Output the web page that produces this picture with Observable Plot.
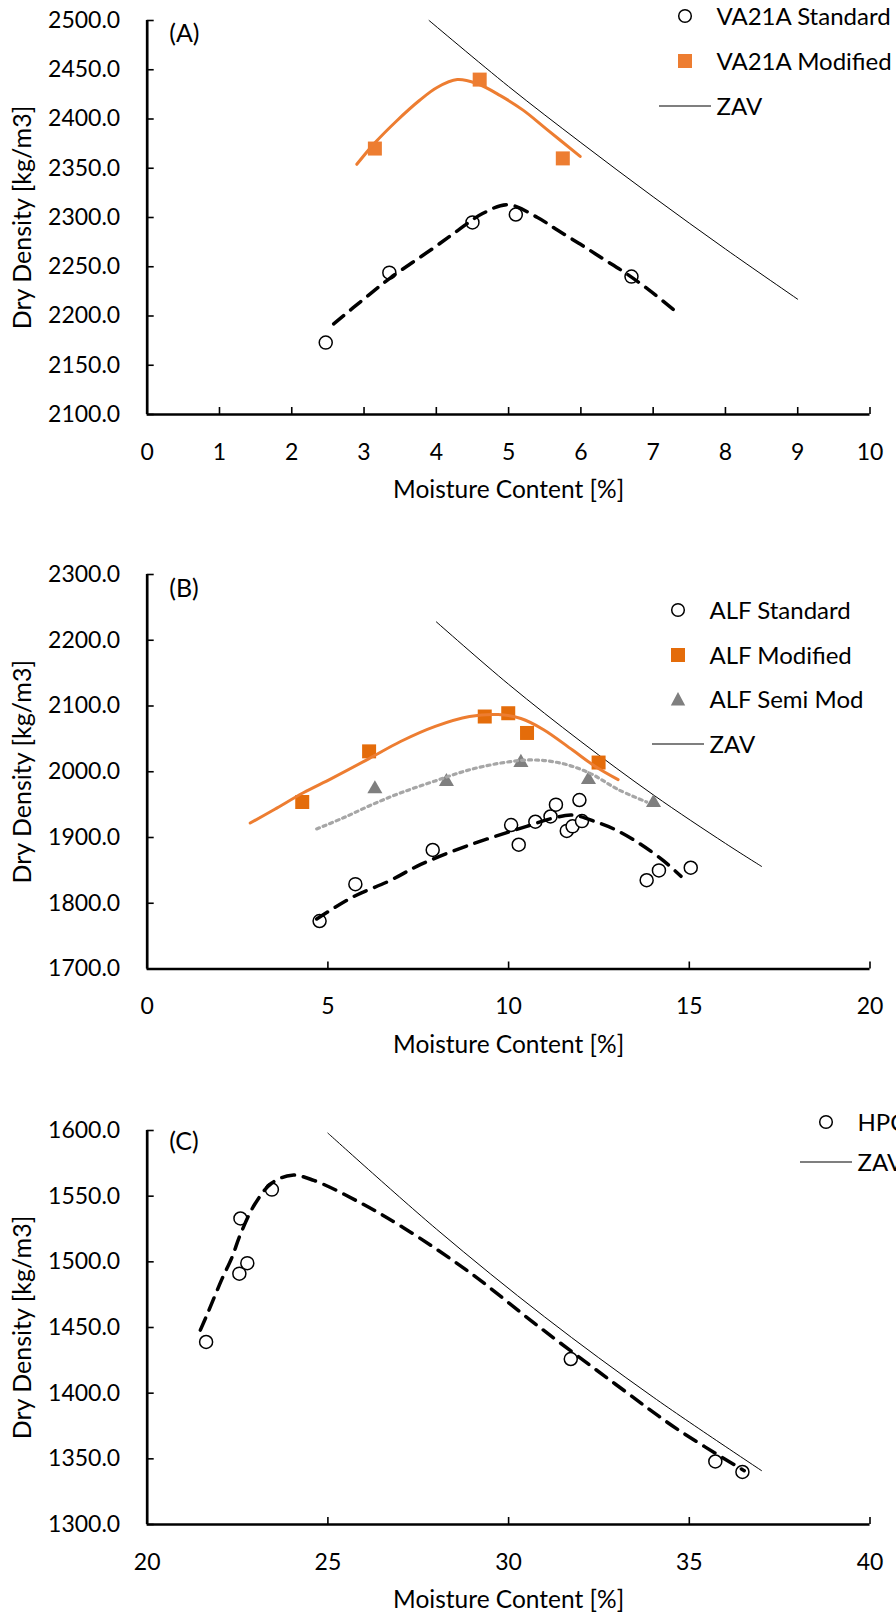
<!DOCTYPE html>
<html>
<head>
<meta charset="utf-8">
<script src="https://cdn.jsdelivr.net/npm/d3@7"></script>
<script src="https://cdn.jsdelivr.net/npm/@observablehq/plot@0.6"></script>
<style>
  html, body { margin: 0; padding: 0; background: #fff; overflow: hidden; }
  body { width: 896px; height: 1617px; font-family: Lato, "Open Sans", sans-serif; }
  .panel { position: relative; width: 896px; }
  .panel svg { display: block; }
  .row { position: absolute; display: flex; align-items: center; transform: translateY(-50%);
         white-space: nowrap; font-size: 24px; color: #000; line-height: 1; }
  .row svg { flex: none; }
</style>
</head>
<body>
<div id="chart"></div>
<script>
// ---------- Panel A: VA21A ----------
const aStdMoisture = [2.47, 3.35, 4.50, 5.10, 6.70];
const aStdDensity  = [2173, 2244, 2295, 2303, 2240];
const aModMoisture = [3.15, 4.60, 5.75];
const aModDensity  = [2370, 2440, 2360];
const aStdFitMoisture = [2.58, 3.06, 3.37, 3.98, 4.30, 4.64, 4.99, 5.40, 5.68, 5.99, 6.31, 6.63, 6.95, 7.29];
const aStdFitDensity  = [2192, 2221, 2239, 2270, 2287, 2304, 2313, 2300, 2287, 2273, 2258, 2243, 2226, 2206];
const aModFitMoisture = [2.90, 3.14, 3.45, 3.77, 4.01, 4.29, 4.56, 4.88, 5.20, 5.52, 5.99];
const aModFitDensity  = [2354, 2375, 2398, 2419, 2432, 2440, 2436, 2424, 2409, 2390, 2362];
const aZavMoisture = [3.9, 5, 6, 7, 8, 9.0];
const aZavDensity  = [2500, 2433, 2376, 2321, 2268, 2217];
const aXTicks = [0, 1, 2, 3, 4, 5, 6, 7, 8, 9, 10];
const aYTicks = [2100, 2150, 2200, 2250, 2300, 2350, 2400, 2450, 2500];

// ---------- Panel B: ALF ----------
const bStdMoisture = [4.77, 5.76, 7.90, 10.07, 10.28, 10.74, 11.16, 11.31, 11.61, 11.77, 11.96, 12.03, 13.82, 14.16, 15.04];
const bStdDensity  = [1773, 1829, 1881, 1919, 1889, 1924, 1932, 1950, 1910, 1917, 1957, 1925, 1835, 1850, 1854];
const bModMoisture = [4.29, 6.14, 9.34, 9.99, 10.51, 12.49];
const bModDensity  = [1954, 2031, 2084, 2089, 2059, 2014];
const bSemiMoisture = [6.30, 8.28, 10.34, 12.21, 14.01];
const bSemiDensity  = [1974, 1985, 2014, 1988, 1953];
const bStdFitMoisture = [4.69, 5.67, 6.70, 7.57, 8.84, 10.50, 11.20, 11.77, 12.45, 12.95, 13.59, 14.30, 14.77];
const bStdFitDensity  = [1776, 1809, 1834, 1859, 1887, 1917, 1929, 1934, 1923, 1912, 1892, 1864, 1841];
const bModFitMoisture = [2.85, 3.53, 4.32, 5.11, 6.14, 7.01, 7.97, 8.92, 9.71, 10.34, 10.97, 11.77, 12.40, 13.03];
const bModFitDensity  = [1922, 1943, 1968, 1990, 2020, 2046, 2069, 2084, 2087, 2081, 2064, 2033, 2008, 1988];
const bSemiFitMoisture = [4.69, 5.43, 6.22, 7.02, 7.97, 8.92, 9.87, 10.66, 11.45, 12.24, 13.03, 13.82];
const bSemiFitDensity  = [1913, 1930, 1950, 1968, 1986, 2003, 2014, 2018, 2013, 1998, 1973, 1954];
const bZavMoisture = [8, 10, 12, 14, 16, 17];
const bZavDensity  = [2228, 2133, 2046, 1965, 1891, 1856];
const bXTicks = [0, 5, 10, 15, 20];
const bYTicks = [1700, 1800, 1900, 2000, 2100, 2200, 2300];

// ---------- Panel C: HPC ----------
const cMoisture = [21.63, 22.55, 22.58, 22.77, 23.45, 31.72, 35.72, 36.47];
const cDensity  = [1439, 1491, 1533, 1499, 1555, 1426, 1348, 1340];
const cFitMoisture = [21.47, 21.66, 22.07, 22.34, 22.58, 22.98, 23.45, 24.01, 24.61, 25.83, 27.09, 28.92, 30.82, 32.95, 34.70, 36.52];
const cFitDensity  = [1448, 1460, 1487, 1503, 1521, 1544, 1560, 1566, 1562, 1546, 1526, 1492, 1451, 1407, 1372, 1341];
const cZavMoisture = [25, 28, 31, 34, 37];
const cZavDensity  = [1598, 1525, 1458, 1397, 1341];
const cXTicks = [20, 25, 30, 35, 40];
const cYTicks = [1300, 1350, 1400, 1450, 1500, 1550, 1600];

// ---------- styling ----------
const FONT = "Lato, 'Open Sans', sans-serif";
const TICK_FS = 23;
const TITLE_FS = 24.5;
const ORANGE = "#ED7D31";
const ORANGE_DARK = "#E46C0A";
const GRAY = "#7F7F7F";
const GRAY_LIGHT = "#A6A6A6";
const W = 896, ML = 146.7, MR = 26.5, MT = 20;

const pts = (xs, ys) => xs.map((x, i) => ({x, y: ys[i]}));

const openCircles = (xs, ys) =>
  Plot.dot(pts(xs, ys), {x: "x", y: "y", r: 6.5, fill: "white", stroke: "black", strokeWidth: 1.5});
const squares = (xs, ys, color) =>
  Plot.dot(pts(xs, ys), {x: "x", y: "y", symbol: "square", r: 7.9, fill: color});
const triangles = (xs, ys) =>
  Plot.dot(pts(xs, ys), {x: "x", y: "y", symbol: "triangle", r: 5.6, fill: GRAY});
const dashedFit = (xs, ys) =>
  Plot.line(pts(xs, ys), {x: "x", y: "y", curve: "catmull-rom", stroke: "black", strokeWidth: 3.5, strokeDasharray: "13 9"});
const solidFit = (xs, ys, color) =>
  Plot.line(pts(xs, ys), {x: "x", y: "y", curve: "catmull-rom", stroke: color, strokeWidth: 3});
const dottedFit = (xs, ys) =>
  Plot.line(pts(xs, ys), {x: "x", y: "y", curve: "catmull-rom", stroke: GRAY_LIGHT, strokeWidth: 3.2, strokeDasharray: "3 4"});
const zav = (xs, ys) =>
  Plot.line(pts(xs, ys), {x: "x", y: "y", curve: "catmull-rom", stroke: "black", strokeWidth: 1});

function panel({height, marginBottom, xDomain, xTicks, yDomain, yTicks, letter, letterDy, layers}) {
  const plotW = W - ML - MR;
  const plotH = height - MT - marginBottom;
  return Plot.plot({
    width: W, height, marginLeft: ML, marginRight: MR, marginTop: MT, marginBottom,
    style: {fontFamily: FONT, fontSize: TICK_FS + "px", color: "#000", background: "#fff", overflow: "visible"},
    x: {domain: xDomain},
    y: {domain: yDomain},
    marks: [
      Plot.axisY(yTicks, {tickSize: 0, tickPadding: 27, tickFormat: d => d.toFixed(1), label: null}),
      Plot.axisX(xTicks, {tickSize: 0, tickPadding: 29, tickFormat: d => String(d), label: null}),
      // inward tick marks
      Plot.tickY(yTicks, {y: d => d, insetRight: plotW - 7, stroke: "black", strokeWidth: 1.6}),
      Plot.tickX(xTicks, {x: d => d, insetTop: plotH - 7, stroke: "black", strokeWidth: 1.6}),
      // axis lines
      Plot.ruleX([xDomain[0]], {y1: yDomain[0], y2: yDomain[1], stroke: "black", strokeWidth: 2.7}),
      Plot.ruleY([yDomain[0]], {x1: xDomain[0], x2: xDomain[1], stroke: "black", strokeWidth: 2.7}),
      ...layers,
      Plot.text([letter], {frameAnchor: "top-left", dx: 22, dy: letterDy, textAnchor: "start", lineAnchor: "middle", fontSize: 25}),
      Plot.text(["Dry Density [kg/m3]"], {frameAnchor: "left", dx: -124, rotate: -90, textAnchor: "middle", lineAnchor: "middle", fontSize: 25}),
      Plot.text(["Moisture Content [%]"], {frameAnchor: "bottom", dy: 76, textAnchor: "middle", lineAnchor: "middle", fontSize: TITLE_FS})
    ]
  });
}

// legend swatches
function swatch(kind, color) {
  const s = d3.create("svg").attr("width", 58).attr("height", 20).attr("viewBox", "0 -10 58 20");
  if (kind === "circle") s.append("circle").attr("cx", 26).attr("cy", 0).attr("r", 6.3)
    .attr("fill", "white").attr("stroke", "black").attr("stroke-width", 1.5);
  if (kind === "square") s.append("rect").attr("x", 19).attr("y", -7).attr("width", 14).attr("height", 14).attr("fill", color);
  if (kind === "triangle") s.append("path").attr("d", "M26,-7L33.2,6.5L18.8,6.5Z").attr("fill", color);
  if (kind === "line") s.append("line").attr("x1", 0).attr("x2", 52).attr("y1", 0).attr("y2", 0)
    .attr("stroke", "black").attr("stroke-width", 1.2);
  return s.node();
}

function addPanel(plotEl, height, legendLeft, rows) {
  const div = document.createElement("div");
  div.className = "panel";
  div.style.height = height + "px";
  div.appendChild(plotEl);
  for (const r of rows) {
    const row = document.createElement("div");
    row.className = "row";
    row.style.left = legendLeft + "px";
    row.style.top = r.y + "px";
    row.appendChild(swatch(r.kind, r.color));
    const t = document.createElement("span");
    t.textContent = r.label;
    row.appendChild(t);
    div.appendChild(row);
  }
  document.getElementById("chart").appendChild(div);
}

const plotA = panel({
  height: 554, marginBottom: 140, xDomain: [0, 10], xTicks: aXTicks, yDomain: [2100, 2500], yTicks: aYTicks,
  letter: "(A)", letterDy: 13,
  layers: [
    zav(aZavMoisture, aZavDensity),
    openCircles(aStdMoisture, aStdDensity),
    squares(aModMoisture, aModDensity, ORANGE),
    dashedFit(aStdFitMoisture, aStdFitDensity),
    solidFit(aModFitMoisture, aModFitDensity, ORANGE)
  ]
});
addPanel(plotA, 554, 658.5, [
  {y: 16, kind: "circle", label: "VA21A Standard"},
  {y: 61, kind: "square", color: ORANGE, label: "VA21A Modified"},
  {y: 106, kind: "line", label: "ZAV"}
]);

const plotB = panel({
  height: 556, marginBottom: 141.5, xDomain: [0, 20], xTicks: bXTicks, yDomain: [1700, 2300], yTicks: bYTicks,
  letter: "(B)", letterDy: 14,
  layers: [
    zav(bZavMoisture, bZavDensity),
    openCircles(bStdMoisture, bStdDensity),
    squares(bModMoisture, bModDensity, ORANGE_DARK),
    triangles(bSemiMoisture, bSemiDensity),
    dashedFit(bStdFitMoisture, bStdFitDensity),
    dottedFit(bSemiFitMoisture, bSemiFitDensity),
    solidFit(bModFitMoisture, bModFitDensity, ORANGE)
  ]
});
addPanel(plotB, 556, 651.5, [
  {y: 56, kind: "circle", label: "ALF Standard"},
  {y: 100.5, kind: "square", color: ORANGE_DARK, label: "ALF Modified"},
  {y: 145, kind: "triangle", color: GRAY, label: "ALF Semi Mod"},
  {y: 189.5, kind: "line", label: "ZAV"}
]);

const plotC = panel({
  height: 507, marginBottom: 93, xDomain: [20, 40], xTicks: cXTicks, yDomain: [1300, 1600], yTicks: cYTicks,
  letter: "(C)", letterDy: 11,
  layers: [
    zav(cZavMoisture, cZavDensity),
    openCircles(cMoisture, cDensity),
    dashedFit(cFitMoisture, cFitDensity)
  ]
});
addPanel(plotC, 507, 799.5, [
  {y: 12, kind: "circle", label: "HPC"},
  {y: 51.5, kind: "line", label: "ZAV"}
]);
</script>
</body>
</html>
